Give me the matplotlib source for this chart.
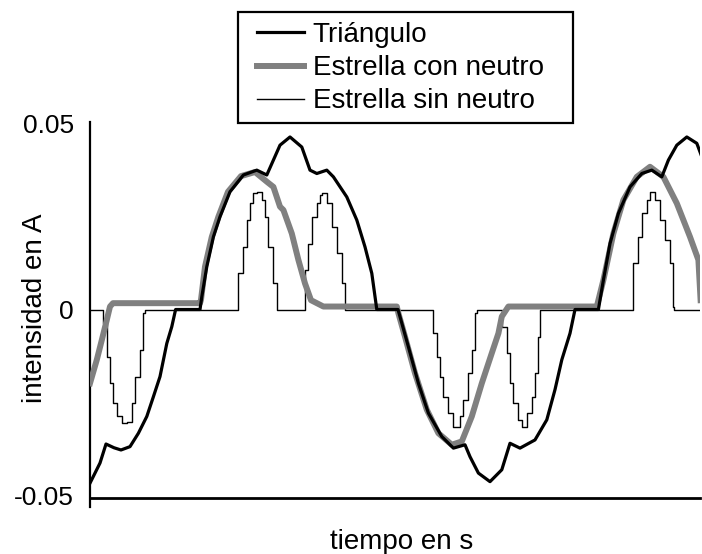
import matplotlib
matplotlib.use("Agg")
import matplotlib.pyplot as plt
from matplotlib.patches import Rectangle
import numpy as np

plt.rcParams['font.family'] = ['Liberation Sans', 'DejaVu Sans']

# corriente de línea, tiempo en ms e intensidad en A
t_tri = [0.00, 0.50, 0.80, 1.20, 1.55, 2.00, 2.42, 2.84, 3.17, 3.50, 3.84, 4.09, 4.28,
         5.50, 5.59, 5.84, 6.17, 6.50, 7.00, 7.67, 8.34, 8.84, 9.17, 9.50, 10.00, 10.59,
         11.00, 11.34, 11.84, 12.17, 12.84, 13.34, 13.75, 14.09, 14.34,
         15.40, 15.92, 16.42, 16.92, 17.59, 18.17, 18.75, 19.00, 19.42, 20.00, 20.59,
         21.00, 21.50, 22.25, 22.84, 23.25, 23.59, 24.00, 24.25,
         25.42, 25.67, 26.00, 26.42, 27.00, 27.59, 28.09, 28.59, 28.92, 29.34, 29.84,
         30.34, 30.59]
i_tri = [-0.0466, -0.0412, -0.0361, -0.0371, -0.0377, -0.0368, -0.0332, -0.0287, -0.0234,
         -0.0180, -0.0091, -0.0046, 0.0,
         0.0, 0.0034, 0.0115, 0.0195, 0.0249, 0.0316, 0.0361, 0.0374, 0.0361, 0.0401,
         0.0441, 0.0463, 0.0436, 0.0374, 0.0365, 0.0374, 0.0356, 0.0302, 0.0240, 0.0168,
         0.0097, 0.0,
         0.0, -0.0100, -0.0198, -0.0278, -0.0341, -0.0372, -0.0363, -0.0395, -0.0439,
         -0.0462, -0.0430, -0.0359, -0.0372, -0.0350, -0.0296, -0.0215, -0.0135, -0.0064,
         0.0,
         0.0, 0.0079, 0.0177, 0.0258, 0.0329, 0.0365, 0.0374, 0.0356, 0.0401, 0.0441,
         0.0463, 0.0446, 0.0410]

t_con = [0.00, 0.34, 0.59, 0.84, 1.00, 1.15, 5.50, 5.55, 5.75, 6.09, 6.42, 6.90, 7.55,
         8.25, 8.84, 9.17, 9.50, 9.67, 10.09, 10.42, 10.75, 11.05, 11.67, 15.34,
         15.42, 15.75, 16.25, 16.84, 17.42, 18.09, 18.59, 19.09, 19.59, 20.09, 20.42,
         20.59, 20.92, 25.34, 25.67, 26.17, 26.67, 27.34, 28.00, 28.67, 29.34, 30.00,
         30.42, 30.53]
i_con = [-0.0198, -0.0135, -0.0082, -0.0028, 0.0008, 0.0017, 0.0017, 0.0026, 0.0115,
         0.0195, 0.0249, 0.0316, 0.0358, 0.0369, 0.0343, 0.0329, 0.0276, 0.0267, 0.0204,
         0.0133, 0.0070, 0.0025, 0.0008, 0.0008,
         -0.0010, -0.0073, -0.0171, -0.0269, -0.0332, -0.0363, -0.0354, -0.0287, -0.0198,
         -0.0117, -0.0064, -0.0019, 0.0008, 0.0008, 0.0079, 0.0204, 0.0294, 0.0356,
         0.0383, 0.0356, 0.0285, 0.0195, 0.0133, 0.0025]

t_sin = [0.00, 0.59, 0.67, 0.84, 1.00, 1.17, 1.34, 1.59, 1.84, 2.09, 2.25, 2.50, 2.67,
         2.75, 7.34, 7.42, 7.67, 7.84, 8.00, 8.17, 8.34, 8.59, 8.75, 8.92, 9.17, 9.34,
         10.60, 10.75, 10.92, 11.09, 11.34, 11.50, 11.59, 11.84, 12.09, 12.34, 12.59,
         12.75, 17.09, 17.17, 17.34, 17.50, 17.67, 17.92, 18.17, 18.50, 18.67, 18.92,
         19.09, 19.25, 19.35, 20.50, 20.59, 20.84, 21.00, 21.17, 21.42, 21.59, 21.84,
         22.09, 22.25, 22.42, 22.50, 27.09, 27.17, 27.42, 27.59, 27.84, 28.00, 28.25,
         28.50, 28.75, 29.00, 29.17, 29.20, 30.35, 30.55]
i_sin = [0.0, 0.0, -0.0037, -0.0127, -0.0198, -0.0251, -0.0287, -0.0305, -0.0301,
         -0.0251, -0.0180, -0.0109, -0.0010, 0.0,
         0.0, 0.0097, 0.0168, 0.0240, 0.0285, 0.0312, 0.0316, 0.0294, 0.0249, 0.0168,
         0.0070, 0.0,
         0.0, 0.0106, 0.0177, 0.0249, 0.0285, 0.0307, 0.0312, 0.0285, 0.0222, 0.0151,
         0.0070, 0.0,
         0.0, -0.0064, -0.0127, -0.0180, -0.0234, -0.0278, -0.0314, -0.0287, -0.0243,
         -0.0171, -0.0109, -0.0010, 0.0,
         0.0, -0.0046, -0.0117, -0.0198, -0.0251, -0.0296, -0.0314, -0.0278, -0.0234,
         -0.0171, -0.0073, 0.0,
         0.0, 0.0124, 0.0195, 0.0258, 0.0294, 0.0316, 0.0294, 0.0240, 0.0186, 0.0124,
         0.0008, 0.0, 0.0, 0.0133]

fig = plt.figure(figsize=(7.02, 5.54), dpi=100)
ax = fig.add_axes([90 / 702, 1 - 507 / 554, 610 / 702, 385.3 / 554])

ax.plot(np.array(t_sin) / 1000, i_sin, color='black', lw=1.0, drawstyle='steps-post',
        label='Estrella sin neutro', zorder=2)
ax.plot(np.array(t_con) / 1000, i_con, color='#808080', lw=4.3,
        label='Estrella con neutro', zorder=3)
ax.plot(np.array(t_tri) / 1000, i_tri, color='black', lw=2.3,
        label='Triángulo', zorder=4)

ax.set_xlim(0, 0.0305)
ax.set_ylim(-0.053, 0.0504)
ax.spines['top'].set_visible(False)
ax.spines['right'].set_visible(False)
ax.spines['left'].set_linewidth(1.6)
ax.spines['bottom'].set_linewidth(2.0)
ax.spines['bottom'].set_position(('data', -0.0505))

ax.set_xticks([])
ax.set_yticks([0.05, 0, -0.05])
ax.set_yticklabels(['0.05', '0', '-0.05'])
ax.tick_params(axis='y', length=0, pad=11.5, labelsize=19)

fig.text(35 / 702, 1 - 308 / 554, 'intensidad en A', rotation=90,
         ha='center', va='center', fontsize=20)
fig.text(402 / 702, 1 - 542 / 554, 'tiempo en s', ha='center', va='center', fontsize=20)

# leyenda sin marco propio; el recuadro se dibuja aparte
handles, labels = ax.get_legend_handles_labels()
leg = fig.legend(handles[::-1], labels[::-1], loc='upper left',
                 bbox_to_anchor=(257 / 702, 1 - 22 / 554), bbox_transform=fig.transFigure,
                 fontsize=20, frameon=False, borderaxespad=0, borderpad=0,
                 handlelength=1.7, handletextpad=0.3, labelspacing=0.26)
fig.patches.append(Rectangle((238 / 702, 1 - 123 / 554), 335 / 702, 111 / 554,
                             transform=fig.transFigure, fill=True, facecolor='white',
                             edgecolor='black', lw=1.6, zorder=5))
leg.set_zorder(6)

fig.savefig('out.png', dpi=100)
